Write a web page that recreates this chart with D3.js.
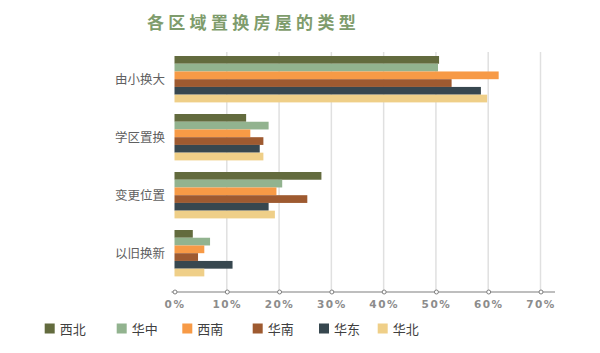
<!DOCTYPE html>
<html><head><meta charset="utf-8">
<script src="https://cdn.jsdelivr.net/npm/d3@7"></script>
<style>body{margin:0;background:#fff}svg{display:block}</style>
</head><body>
<svg id="c" width="600" height="353"></svg>
<script>
const categories = ["由小换大","学区置换","变更位置","以旧换新"];
const seriesNames = ["西北","华中","西南","华南","华东","华北"];
const colors = ["#636b3e","#92b38f","#f79a46","#9e5a30","#37474f","#efcf88"];
const v西北 = [0.506,0.137,0.281,0.035];
const v华中 = [0.504,0.180,0.206,0.068];
const v西南 = [0.620,0.145,0.195,0.057];
const v华南 = [0.530,0.170,0.254,0.045];
const v华东 = [0.586,0.163,0.180,0.111];
const v华北 = [0.598,0.170,0.192,0.057];
const seriesValues = [v西北,v华中,v西南,v华南,v华东,v华北];
const tickValues = [0,0.1,0.2,0.3,0.4,0.5,0.6,0.7];

const svg = d3.select("#c");
const x = d3.scaleLinear().domain([0,0.7]).range([174.5,540.5]);
const y = d3.scaleBand().domain(categories).range([50.2,282.2]).paddingInner(0.2).paddingOuter(0.1);
const ys = d3.scaleBand().domain(seriesNames).range([0,y.bandwidth()]);

// title
svg.append("text").attr("x",147).attr("y",29).attr("fill","#7e9c6c")
  .attr("font-family","'Noto Sans CJK SC'").attr("font-weight","bold")
  .attr("font-size",17).attr("letter-spacing",4.3).text("各区域置换房屋的类型");

// grid
svg.append("g").selectAll("line").data(tickValues.slice(1)).join("line")
  .attr("x1",d=>x(d)).attr("x2",d=>x(d)).attr("y1",52).attr("y2",292)
  .attr("stroke","#e0e0e0").attr("stroke-width",1.5);

// bars
const g = svg.append("g");
seriesNames.forEach((s,i)=>{
  g.append("g").selectAll("rect").data(categories).join("rect")
    .attr("x",x(0)).attr("y",(c)=>y(c)+ys(s))
    .attr("width",(c,j)=>x(seriesValues[i][j])-x(0))
    .attr("height",ys.bandwidth())
    .attr("fill",colors[i]);
});

// y labels
svg.append("g").selectAll("text").data(categories).join("text")
  .attr("x",165).attr("y",c=>y(c)+y.bandwidth()/2+4.5).attr("text-anchor","end")
  .attr("font-family","'Noto Sans CJK SC'").attr("font-size",12.5).attr("fill","#606060")
  .text(c=>c);

// x axis
const ax = svg.append("g").attr("transform","translate(0,292)")
  .call(d3.axisBottom(x).tickValues(tickValues).tickFormat(d3.format(".0%")).tickSize(0).tickPadding(9));
ax.select(".domain").remove();
ax.insert("line",":first-child").attr("x1",x(0)-3).attr("x2",555).attr("stroke","#7f7f7f").attr("stroke-width",1.2);
ax.selectAll(".tick").append("circle").attr("r",2).attr("fill","#fff").attr("stroke","#7f7f7f").attr("stroke-width",1);
ax.selectAll(".tick text").attr("font-family","'DejaVu Sans'").attr("font-weight","bold")
  .attr("font-size",10.5).attr("fill","#8c8c8c").attr("letter-spacing",1.5);

// legend
const legX = [44.7,116.7,182.3,252.7,319,377.7];
const lg = svg.append("g");
seriesNames.forEach((s,i)=>{
  lg.append("rect").attr("x",legX[i]).attr("y",323.5).attr("width",10).attr("height",10).attr("fill",colors[i]);
  lg.append("text").attr("x",legX[i]+15).attr("y",333.5)
    .attr("font-family","'Noto Sans CJK SC'").attr("font-size",13).attr("fill","#404040").text(s);
});
</script>
</body></html>
